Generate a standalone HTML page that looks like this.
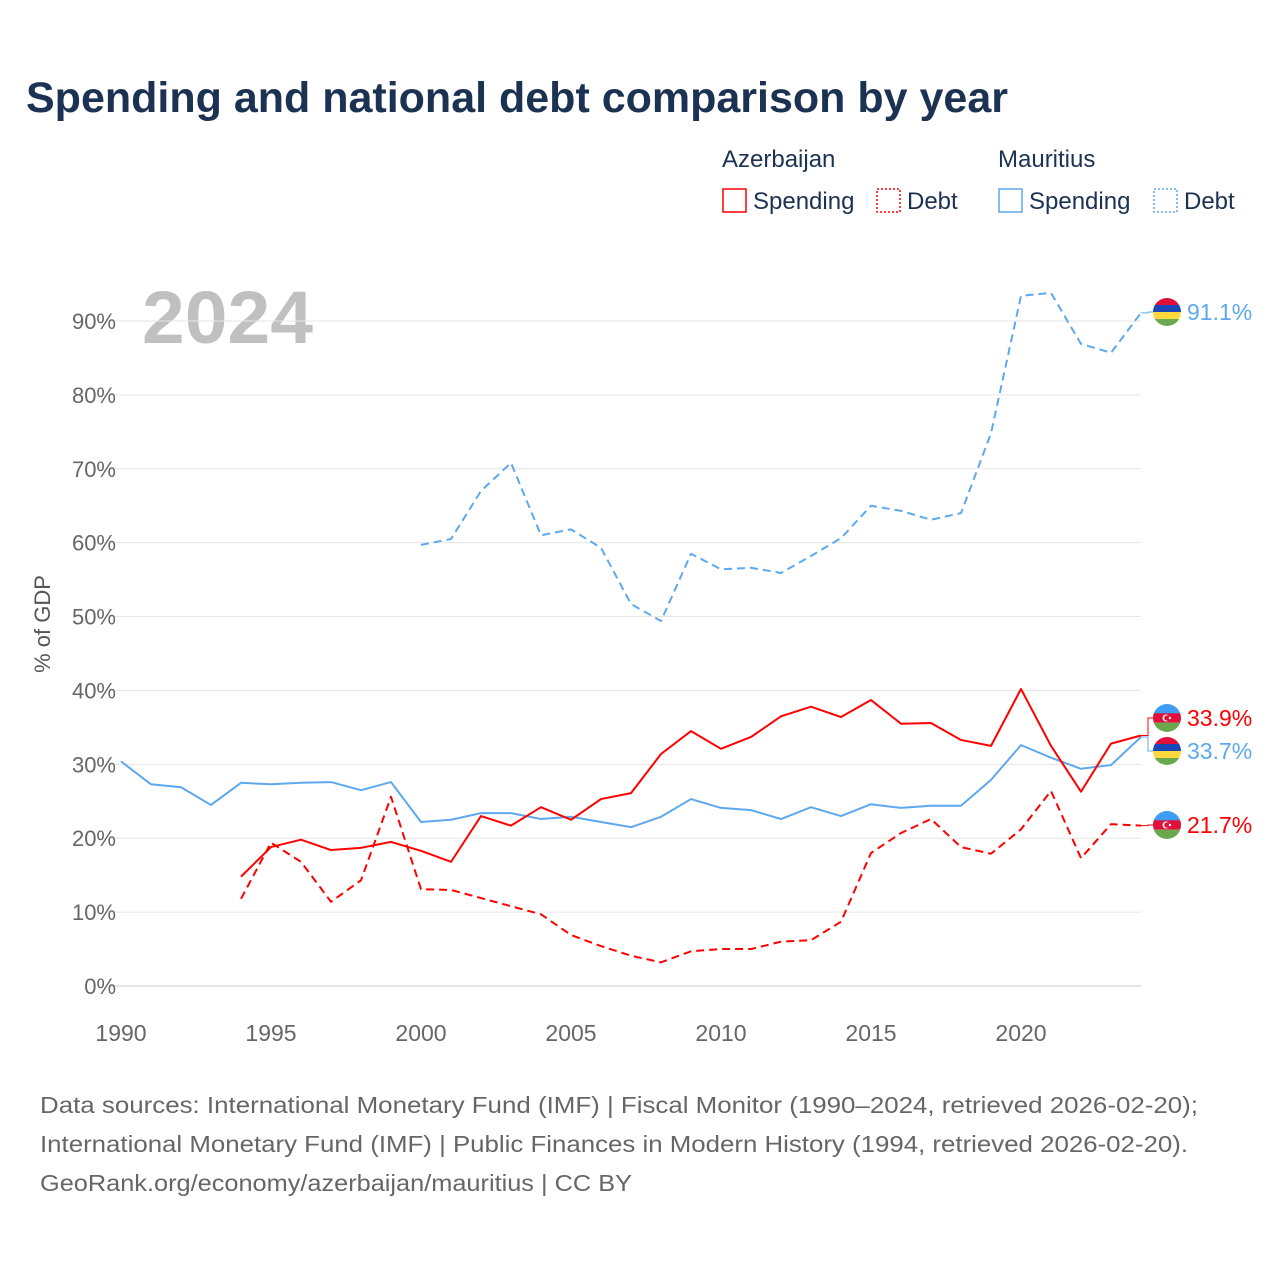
<!DOCTYPE html>
<html><head><meta charset="utf-8"><style>
body{margin:0;background:#fff;width:1280px;height:1280px;overflow:hidden;font-family:"Liberation Sans",sans-serif}
svg{position:absolute;left:0;top:0}
</style></head><body>
<svg width="1280" height="1280">
<defs>
<clipPath id="c"><circle cx="0" cy="0" r="14"/></clipPath>
<g id="fAz"><g clip-path="url(#c)"><rect x="-14" y="-14" width="28" height="10" fill="#3f9cf0"/><rect x="-14" y="-4.7" width="28" height="9.4" fill="#e0103a"/><rect x="-14" y="4.7" width="28" height="10" fill="#6aa84f"/><circle cx="-1" cy="0" r="3.5" fill="#fff"/><circle cx="0" cy="0" r="2.8" fill="#e0103a"/><circle cx="3" cy="0" r="1.2" fill="#fff"/></g></g>
<g id="fMu"><g clip-path="url(#c)"><rect x="-14" y="-14" width="28" height="7.5" fill="#e0103a"/><rect x="-14" y="-7" width="28" height="7" fill="#1a47b8"/><rect x="-14" y="0" width="28" height="7" fill="#ffd83d"/><rect x="-14" y="7" width="28" height="7" fill="#6aa84f"/></g></g>
</defs>
<text x="26" y="112" font-size="43" font-weight="bold" fill="#1b3252" textLength="982" lengthAdjust="spacingAndGlyphs">Spending and national debt comparison by year</text>
<g font-size="24" fill="#1b3252">
<text x="722" y="167">Azerbaijan</text><text x="998" y="167">Mauritius</text>
<rect x="723" y="189" width="23" height="23" fill="none" stroke="#f00" stroke-width="1.5"/><text x="753" y="209">Spending</text>
<rect x="877" y="189" width="23" height="23" fill="none" stroke="#f00" stroke-width="1.5" stroke-dasharray="2,2"/><text x="907" y="209">Debt</text>
<rect x="999" y="189" width="23" height="23" fill="none" stroke="#5ea8ee" stroke-width="1.5"/><text x="1029" y="209">Spending</text>
<rect x="1154" y="189" width="23" height="23" fill="none" stroke="#5ea8ee" stroke-width="1.5" stroke-dasharray="2,2"/><text x="1184" y="209">Debt</text>
</g>
<text x="142" y="343" font-size="74" font-weight="bold" fill="#c0c0c0" textLength="171" lengthAdjust="spacingAndGlyphs">2024</text>
<g id="grid"></g><g id="series"></g><g id="labels"></g>
<text transform="translate(50,624) rotate(-90)" text-anchor="middle" font-size="22" fill="#555">% of GDP</text>
<g font-size="23" fill="#666">
<text x="40" y="1113" textLength="1158" lengthAdjust="spacingAndGlyphs">Data sources: International Monetary Fund (IMF) | Fiscal Monitor (1990–2024, retrieved 2026-02-20);</text>
<text x="40" y="1152" textLength="1148" lengthAdjust="spacingAndGlyphs">International Monetary Fund (IMF) | Public Finances in Modern History (1994, retrieved 2026-02-20).</text>
<text x="40" y="1191" textLength="592" lengthAdjust="spacingAndGlyphs">GeoRank.org/economy/azerbaijan/mauritius | CC BY</text>
</g>
</svg>
<script>
const yTicks=[0,10,20,30,40,50,60,70,80,90];
const xTicks=[1990,1995,2000,2005,2010,2015,2020];
const muSpendStart=1990;
const muSpend=[30.4,27.3,26.9,24.5,27.5,27.3,27.5,27.6,26.5,27.6,22.2,22.5,23.4,23.4,22.6,22.9,22.2,21.5,22.9,25.3,24.1,23.8,22.6,24.2,23.0,24.6,24.1,24.4,24.4,27.9,32.6,30.9,29.4,29.9,33.7];
const muDebtStart=2000;
const muDebt=[59.7,60.5,67.0,70.8,61.0,61.8,59.3,51.7,49.4,58.5,56.4,56.6,55.9,58.2,60.6,65.0,64.3,63.1,64.0,74.8,93.4,93.8,86.9,85.7,91.1];
const azSpendStart=1994;
const azSpend=[14.8,18.8,19.8,18.4,18.7,19.5,18.3,16.8,23.0,21.7,24.2,22.5,25.3,26.1,31.4,34.5,32.1,33.7,36.5,37.8,36.4,38.7,35.5,35.6,33.3,32.5,40.2,32.5,26.3,32.8,33.9];
const azDebtStart=1994;
const azDebt=[11.8,19.4,16.8,11.4,14.3,25.6,13.1,13.0,11.9,10.8,9.7,6.9,5.4,4.1,3.2,4.7,5.0,5.0,6.0,6.2,8.7,18.0,20.7,22.6,18.8,17.9,21.2,26.4,17.3,21.9,21.7];
const X=y=>121+(y-1990)*30, Y=v=>986-v*7.389;
const NS="http://www.w3.org/2000/svg";
function mk(t,a,p){const e=document.createElementNS(NS,t);for(const k in a)e.setAttribute(k,a[k]);p.appendChild(e);return e;}
const g=document.getElementById('grid');
yTicks.forEach(v=>{
 const l=mk('line',{x1:110,x2:1141,y1:Y(v),y2:Y(v),stroke:v?'#e6e6e6':'#ccc','stroke-width':1},g);
 
 
 const t=mk('text',{x:116,y:Y(v)+8,'text-anchor':'end','font-size':22,fill:'#666'},g);t.textContent=v+'%';
 
 
});
xTicks.forEach(y=>{
 const t=mk('text',{x:X(y),y:1041,'text-anchor':'middle','font-size':23,fill:'#666'},g);t.textContent=y;
 
 
});
const s=document.getElementById('series');
function line(arr,start,col,dash,name){
 const p=mk('polyline',{points:arr.map((v,i)=>X(start+i)+','+Y(v)).join(' '),fill:'none',stroke:col,'stroke-width':2,'stroke-dasharray':dash||'none','stroke-linejoin':'round'},s);
 
 
}
line(muSpend,muSpendStart,'#5ea8ee',null,'line-mauritius-spending');
line(muDebt,muDebtStart,'#5ea8ee','8,5','line-mauritius-debt');
line(azSpend,azSpendStart,'#f00',null,'line-azerbaijan-spending');
line(azDebt,azDebtStart,'#f00','8,5','line-azerbaijan-debt');
const L=document.getElementById('labels');
function lab(v,ly,col,flag,name){
 mk('polyline',{points:`${X(2024)},${Y(v)} 1148,${Y(v)} 1148,${ly} 1153,${ly}`,fill:'none',stroke:col,'stroke-width':1},L);
 mk('use',{href:'#'+flag,x:1167,y:ly},L);
 const t=mk('text',{x:1187,y:ly+8,'font-size':23,fill:col},L);t.textContent=v.toFixed(1)+'%';
 
 
}
lab(muDebt[muDebt.length-1],312,'#5ea8ee','fMu','label-mauritius-debt');
lab(azSpend[azSpend.length-1],718,'#f00','fAz','label-azerbaijan-spending');
lab(muSpend[muSpend.length-1],751,'#5ea8ee','fMu','label-mauritius-spending');
lab(azDebt[azDebt.length-1],825,'#f00','fAz','label-azerbaijan-debt');
</script>
</body></html>
